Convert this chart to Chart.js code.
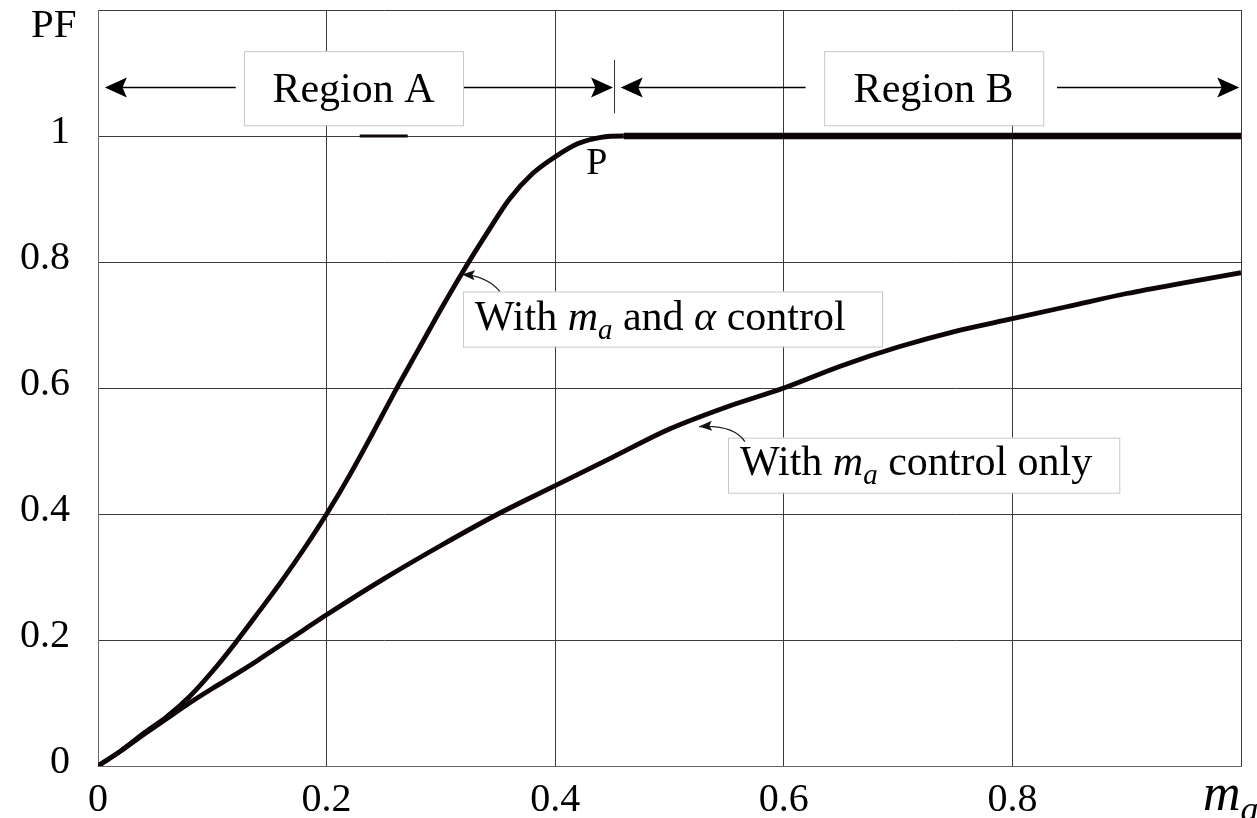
<!DOCTYPE html>
<html>
<head>
<meta charset="utf-8">
<title>PF vs ma</title>
<script src="https://cdn.jsdelivr.net/npm/chart.js@4/dist/chart.umd.min.js"></script>
<style>
  html, body { margin: 0; padding: 0; background: #fff; }
  #wrap { width: 1257px; height: 818px; position: relative; }
</style>
</head>
<body>
<div id="wrap"><canvas id="pfChart"></canvas></div>
<script>
// values
const maAlpha = [0, 0.02, 0.04, 0.06, 0.08, 0.10, 0.12, 0.14, 0.16, 0.18, 0.20, 0.22, 0.24, 0.26, 0.28, 0.30, 0.32, 0.34, 0.36, 0.38, 0.40, 0.42, 0.44, 0.46, 0.50, 0.60, 0.70, 0.80, 0.90, 1.00];
const pfAlpha = [0, 0.024, 0.052, 0.078, 0.11, 0.15, 0.195, 0.243, 0.292, 0.344, 0.40, 0.461, 0.527, 0.595, 0.66, 0.725, 0.787, 0.845, 0.90, 0.94, 0.967, 0.988, 0.998, 1.0, 1.0, 1.0, 1.0, 1.0, 1.0, 1.0];

const maOnly = [0, 0.02, 0.04, 0.06, 0.08, 0.10, 0.12, 0.14, 0.16, 0.18, 0.20, 0.25, 0.30, 0.35, 0.40, 0.45, 0.50, 0.55, 0.60, 0.65, 0.70, 0.75, 0.80, 0.85, 0.90, 0.95, 1.00];
const pfOnly = [0, 0.024, 0.05, 0.075, 0.10, 0.123, 0.145, 0.168, 0.192, 0.216, 0.24, 0.297, 0.35, 0.40, 0.445, 0.49, 0.535, 0.57, 0.60, 0.635, 0.665, 0.69, 0.71, 0.73, 0.75, 0.767, 0.783];

const xTickLabels = ['0', '0.2', '0.4', '0.6', '0.8'];
const yTickLabels = ['0', '0.2', '0.4', '0.6', '0.8', '1'];

const serif = '"Liberation Serif", "Times New Roman", serif';
const ink = '#0e0606';

const toPoints = (xs, ys) => xs.map((v, i) => ({ x: v, y: ys[i] }));

// filled arrow head with a slightly notched back
function arrowHead(ctx, x, y, dir, len, half) {
  ctx.beginPath();
  ctx.moveTo(x, y);
  ctx.lineTo(x - dir * len, y - half);
  ctx.lineTo(x - dir * len * 0.8, y);
  ctx.lineTo(x - dir * len, y + half);
  ctx.closePath();
  ctx.fill();
}

// text made of pieces: normal, italic, italic subscript
function mathText(ctx, parts, x, base, size) {
  let cx = x;
  parts.forEach(p => {
    const fs = p.sub ? Math.round(size * 0.7) : size;
    ctx.font = (p.it ? 'italic ' : '') + fs + 'px ' + serif;
    ctx.fillText(p.t, cx, base + (p.sub ? size * 0.22 : 0));
    cx += ctx.measureText(p.t).width;
  });
}

function labelBox(ctx, x0, y0, x1, y1) {
  ctx.fillStyle = '#fff';
  ctx.fillRect(x0, y0, x1 - x0, y1 - y0);
  ctx.strokeStyle = '#c8c8c8';
  ctx.lineWidth = 1;
  ctx.strokeRect(x0 + 0.5, y0 + 0.5, x1 - x0, y1 - y0);
}

function callout(ctx, sx, sy, cx, cy, tx, ty) {
  ctx.strokeStyle = '#222';
  ctx.lineWidth = 1.2;
  ctx.beginPath();
  ctx.moveTo(sx, sy);
  ctx.quadraticCurveTo(cx, cy, tx, ty);
  ctx.stroke();
  const ang = Math.atan2(ty - cy, tx - cx);
  ctx.save();
  ctx.translate(tx, ty);
  ctx.rotate(ang);
  ctx.fillStyle = '#111';
  arrowHead(ctx, 0, 0, 1, 13, 5);
  ctx.restore();
}

const annotations = {
  id: 'annotations',
  afterDraw(chart) {
    const { ctx, chartArea, scales: { x, y } } = chart;
    const px = v => x.getPixelForValue(v);
    const py = v => y.getPixelForValue(v);
    ctx.save();
    ctx.fillStyle = '#000';
    ctx.textBaseline = 'alphabetic';

    // axis names
    ctx.font = '41px ' + serif;
    ctx.fillText('PF', chartArea.left - 67, chartArea.top + 27);
    mathText(ctx, [{ t: 'm', it: true }, { t: 'a', it: true, sub: true }], chartArea.right - 38, 810, 52);

    // stray tick on the 1.0 line
    ctx.fillStyle = ink;
    ctx.fillRect(px(0.229), py(1) - 1.5, px(0.271) - px(0.229), 3);

    // region arrows
    const ry = Math.round(py(1.078)) + 0.5;
    ctx.strokeStyle = '#000';
    ctx.lineWidth = 1.3;
    ctx.beginPath();
    ctx.moveTo(px(0.006) + 10, ry); ctx.lineTo(px(0.1205), ry);
    ctx.moveTo(px(0.3193), ry); ctx.lineTo(px(0.4506) - 10, ry);
    ctx.moveTo(px(0.4573) + 10, ry); ctx.lineTo(px(0.619), ry);
    ctx.moveTo(px(0.839), ry); ctx.lineTo(px(0.9985) - 10, ry);
    ctx.stroke();
    ctx.lineWidth = 1;
    ctx.strokeStyle = '#333';
    ctx.beginPath();
    ctx.moveTo(px(0.4519), py(1.121)); ctx.lineTo(px(0.4519), py(1.036));
    ctx.stroke();
    ctx.fillStyle = '#000';
    arrowHead(ctx, px(0.006), ry, -1, 22, 10);
    arrowHead(ctx, px(0.4506), ry, 1, 22, 10);
    arrowHead(ctx, px(0.4573), ry, -1, 22, 10);
    arrowHead(ctx, px(0.9985), ry, 1, 22, 10);

    labelBox(ctx, px(0.1277), py(1.1346), px(0.3193), py(1.017));
    labelBox(ctx, px(0.6353), py(1.1346), px(0.827), py(1.017));
    ctx.fillStyle = '#000';
    ctx.font = '42px ' + serif;
    ctx.textAlign = 'center';
    ctx.fillText('Region A', px(0.2235), ry + 14);
    ctx.fillText('Region B', px(0.731), ry + 14);

    // point P
    ctx.font = '38px ' + serif;
    ctx.fillText('P', px(0.4365), py(0.9598) + 13);
    ctx.textAlign = 'left';

    // curve labels
    labelBox(ctx, px(0.3193), py(0.7532), px(0.686), py(0.6657));
    ctx.fillStyle = '#000';
    mathText(ctx, [
      { t: 'With ' }, { t: 'm', it: true }, { t: 'a', it: true, sub: true },
      { t: ' and ' }, { t: '\u03b1', it: true }, { t: ' control' }
    ], px(0.3297), py(0.6928), 42);
    callout(ctx, px(0.3516), py(0.7532), px(0.34), py(0.778), px(0.3183), py(0.7802));

    labelBox(ctx, px(0.5512), py(0.5212), px(0.8935), py(0.4338));
    ctx.fillStyle = '#000';
    mathText(ctx, [
      { t: 'With ' }, { t: 'm', it: true }, { t: 'a', it: true, sub: true },
      { t: ' control only' }
    ], px(0.5617), py(0.4624), 42);
    callout(ctx, px(0.566), py(0.5149), px(0.556), py(0.542), px(0.5258), py(0.5387));

    ctx.restore();
  }
};

new Chart(document.getElementById('pfChart'), {
  type: 'line',
  data: {
    datasets: [{
      label: 'With ma and alpha control',
      data: toPoints(maAlpha, pfAlpha),
      borderColor: ink,
      borderWidth: 4.8,
      pointRadius: 0,
      cubicInterpolationMode: 'monotone',
      segment: {
        borderWidth: c => (c.p0.parsed.x >= 0.455 ? 6.5 : 4.8)
      }
    }, {
      label: 'With ma control only',
      data: toPoints(maOnly, pfOnly),
      borderColor: ink,
      borderWidth: 4.8,
      pointRadius: 0,
      cubicInterpolationMode: 'monotone'
    }]
  },
  options: {
    responsive: true,
    maintainAspectRatio: false,
    animation: false,
    layout: { padding: { top: 10, right: 16, left: 0, bottom: 0 } },
    plugins: {
      legend: { display: false },
      tooltip: { enabled: false }
    },
    scales: {
      x: {
        type: 'linear',
        min: 0,
        max: 1,
        afterFit: s => { s.height = 52; s.paddingLeft = 0; s.paddingRight = 0; },
        grid: { color: '#3a3a3a', lineWidth: 1, drawTicks: false },
        border: { color: '#666' },
        ticks: {
          stepSize: 0.2,
          padding: 10,
          color: '#000',
          font: { family: serif, size: 40 },
          maxRotation: 0,
          callback: v => xTickLabels[Math.round(v / 0.2)] || ''
        }
      },
      y: {
        min: 0,
        max: 1.2,
        afterFit: s => { s.width = 98; s.paddingTop = 0; s.paddingBottom = 0; },
        grid: { color: '#3a3a3a', lineWidth: 1, drawTicks: false },
        border: { color: '#666' },
        ticks: {
          stepSize: 0.2,
          padding: 28,
          labelOffset: -4,
          color: '#000',
          font: { family: serif, size: 40 },
          callback: v => yTickLabels[Math.round(v / 0.2)] || ''
        }
      }
    }
  },
  plugins: [annotations]
});
</script>
</body>
</html>
